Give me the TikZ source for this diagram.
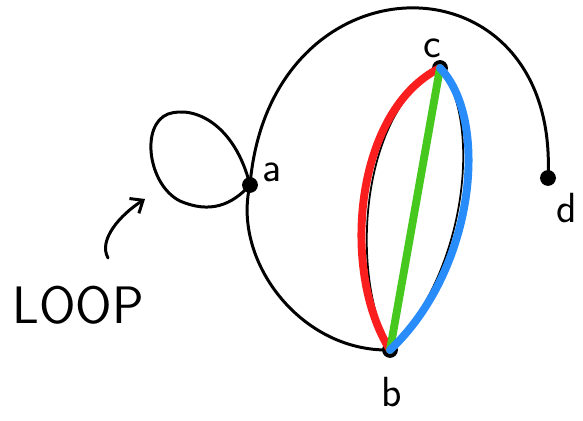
\documentclass[tikz,border=0pt]{standalone}
\usepackage{tikz}
\usetikzlibrary{arrows.meta}
\definecolor{red}{RGB}{250,30,30}
\definecolor{green}{RGB}{70,200,30}
\definecolor{blue}{RGB}{40,140,250}

\begin{document}
\begin{tikzpicture}[x=0.02cm, y=-0.02cm, line cap=round, line join=round,
    every node/.style={font=\sffamily\fontsize{24}{26}\selectfont},
    vertex/.style={circle, fill=black, inner sep=0pt, minimum size=9pt}]
    \useasboundingbox (0,0) rectangle (583,421);

    % vertices
    \node[vertex] (a) at (250,185) {};
    \node[vertex] (c) at (440,68) {};
    \node[vertex] (b) at (390,350) {};
    \node[vertex] (d) at (548,178) {};
    \node (la) at (272,172) {a};
    \node (lc) at (432,48) {c};
    \node (lb) at (392,392) {b};
    \node (ld) at (567,208) {d};

    % black edges
    \draw[line width=1.7pt] (a.center) .. controls (235,125) and (195,105) .. (168,114)
        .. controls (140,125) and (148,185) .. (180,201)
        .. controls (210,214) and (232,205) .. (a.center);
    \draw[line width=1.7pt] (a.center) .. controls (232,260) and (300,352) .. (b.center);
    \draw[line width=1.7pt] (a.center) .. controls (270,-50) and (560,-50) .. (d.center);
    \draw[line width=1pt] (c.center) .. controls (362,110) and (348,270) .. (b.center);
    \draw[line width=1pt] (c.center) .. controls (482,120) and (468,270) .. (b.center);

    % coloured edges c--b
    \draw[red, line width=4.5pt] (c.center) .. controls (355,110) and (340,270) .. (b.center);
    \draw[green, line width=4.5pt] (c.center) -- (b.center);
    \draw[blue, line width=4.5pt] (c.center) .. controls (490,120) and (475,270) .. (b.center);

    % loop label
    \node[font=\sffamily\fontsize{30}{32}\selectfont] (loop) at (78,305) {LOOP};
    \coordinate (tail) at (108,258);
    \coordinate (tip) at (145,199);
    \draw[line width=1.7pt, -{Straight Barb[length=6pt, width=10pt]}] (tail) .. controls (98,240) and (120,215) .. (tip);
\end{tikzpicture}
\end{document}
